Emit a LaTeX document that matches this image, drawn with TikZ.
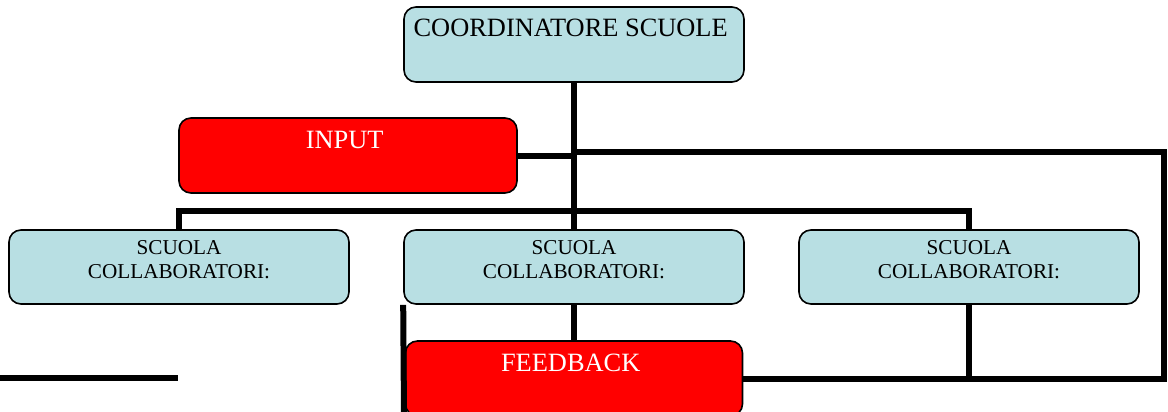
\documentclass[tikz,border=0pt]{standalone}
\usepackage{fontspec}
\setmainfont{Liberation Serif}
\definecolor{boxblue}{RGB}{184,223,227}
\definecolor{boxred}{RGB}{255,0,0}
\begin{document}
\begin{tikzpicture}[x=0.5pt, y=-0.5pt,
    box/.style={draw, line width=0.8pt, rounded corners=6pt, inner sep=0pt, align=center},
    bluebox/.style={box, fill=boxblue, font=\fontsize{10.6}{12}\selectfont,
        minimum width=170pt, text height=24pt, text depth=13pt},
    topbox/.style={box, fill=boxblue, font=\fontsize{13.2}{15}\selectfont,
        minimum width=170pt, text height=14.5pt, text depth=23pt},
    redbox/.style={box, fill=boxred, text=white, font=\fontsize{13.2}{15}\selectfont,
        minimum width=169pt, text height=15pt, text depth=22.5pt},
    link/.style={line width=3pt}]
    \useasboundingbox (0,0) rectangle (1168,412);
    \clip (0,0) rectangle (1168,412);

    \node[topbox] (coord) at (574, 44.5) { COORDINATORE SCUOLE };
    \node[redbox] (input) at (348, 155.5) { INPUT };
    \node[bluebox] (left) at (179, 267) { SCUOLA\\COLLABORATORI: };
    \node[bluebox] (mid) at (574, 267) { SCUOLA\\COLLABORATORI: };
    \node[bluebox] (right) at (969, 267) { SCUOLA\\COLLABORATORI: };
    \node[redbox, minimum width=168.5pt] (feedback) at (574, 378.5) { FEEDBACK };

    \coordinate (bus) at (574, 211);
    \coordinate (loop) at (1164, 152);
    \coordinate (drop) at (404, 416);
    \coordinate (stubL) at (-2, 378);
    \coordinate (stubR) at (178, 378);

    \draw[link] (coord) -- (mid);
    \draw[link] (input.east) -- (input.east -| coord.south);
    \draw[link] (left.north) |- (bus) -| (right.north);
    \draw[link] (coord.south |- loop) -- (loop) |- (feedback.east);
    \draw[link] (right.south) -- (right.south |- feedback.east);
    \draw[link] (mid) -- (feedback);
    \draw[link] (mid.south west) -- (drop);
    \draw[link] (stubL) -- (stubR);
\end{tikzpicture}
\end{document}
